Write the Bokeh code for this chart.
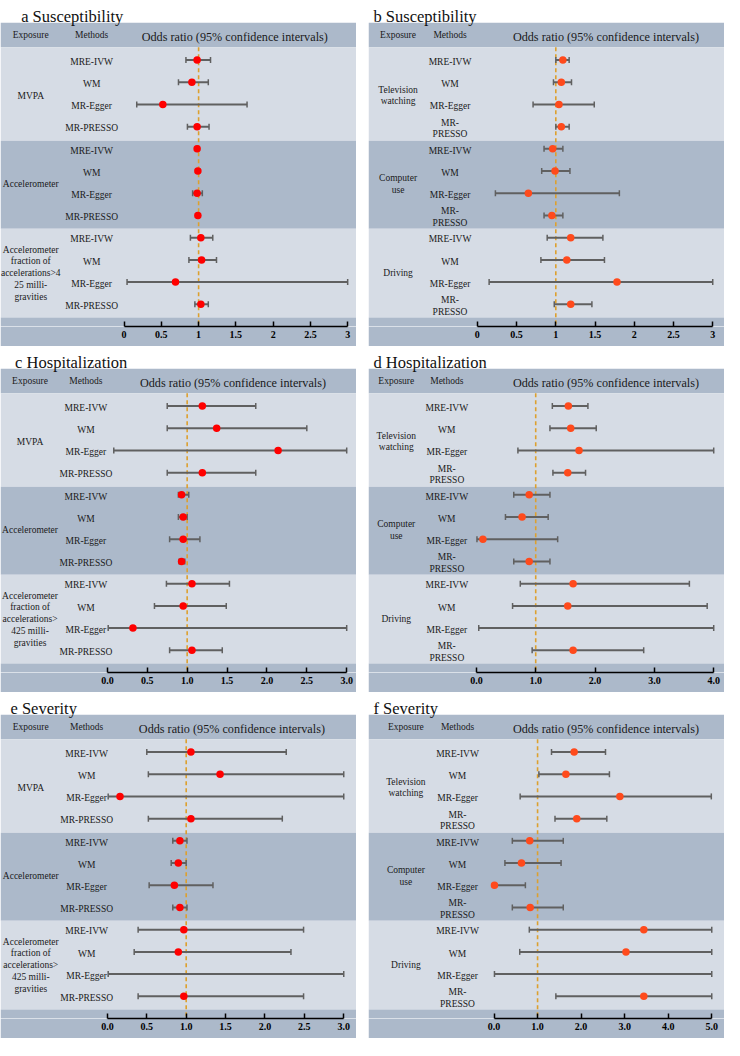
import math
import numpy as np
from bokeh.plotting import figure
from bokeh.models import Range1d, LinearAxis, FixedTicker, NumeralTickFormatter, BoxAnnotation
from bokeh.layouts import column, row
from bokeh.embed import file_html
from bokeh.resources import INLINE
from bokeh.core.properties import value

NaN = float("nan")

# ---------------- data ----------------
methods_one_line = ["MRE-IVW", "WM", "MR-Egger", "MR-PRESSO"]
methods_two_line = ["MRE-IVW", "WM", "MR-Egger", "MR-\nPRESSO"]

exposures_a = ["MVPA", "Accelerometer",
               "Accelerometer\nfraction of\naccelerations>4\n25 milli-\ngravities"]
exposures_ce = ["MVPA", "Accelerometer",
                "Accelerometer\nfraction of\naccelerations>\n425 milli-\ngravities"]
exposures_bdf = ["Television\nwatching", "Computer\nuse", "Driving"]

ticks_3_half = [0, 0.5, 1, 1.5, 2, 2.5, 3]
ticks_4 = [0, 1, 2, 3, 4]
ticks_5 = [0, 1, 2, 3, 4, 5]
null_value = 1.0

# a Susceptibility
a_or = [0.98, 0.91, 0.52, 0.98, 0.98, 0.99, 0.98, 0.99, 1.03, 1.04, 0.69, 1.03]
a_lo = [0.83, 0.73, 0.17, 0.85, 0.97, 0.97, 0.92, 0.98, 0.89, 0.87, 0.04, 0.95]
a_hi = [1.16, 1.13, 1.65, 1.14, 1.00, 1.01, 1.05, 1.00, 1.19, 1.24, 3.00, 1.13]
# b Susceptibility
b_or = [1.09, 1.07, 1.04, 1.07, 0.96, 0.99, 0.65, 0.95, 1.19, 1.14, 1.78, 1.19]
b_lo = [1.00, 0.97, 0.71, 1.00, 0.85, 0.82, 0.23, 0.85, 0.89, 0.81, 0.15, 0.98]
b_hi = [1.17, 1.20, 1.49, 1.17, 1.09, 1.18, 1.81, 1.09, 1.60, 1.62, 3.00, 1.46]
# c Hospitalization
c_or = [1.19, 1.37, 2.14, 1.19, 0.93, 0.95, 0.95, 0.93, 1.06, 0.95, 0.32, 1.06]
c_lo = [0.75, 0.75, 0.08, 0.75, 0.89, 0.89, 0.78, 0.90, 0.74, 0.59, 0.01, 0.78]
c_hi = [1.86, 2.50, 3.00, 1.86, 1.02, 1.00, 1.16, 0.97, 1.53, 1.49, 3.00, 1.44]
# d Hospitalization
d_or = [1.55, 1.59, 1.73, 1.54, 0.89, 0.77, 0.11, 0.89, 1.63, 1.54, NaN, 1.63]
d_lo = [1.28, 1.24, 0.70, 1.29, 0.63, 0.49, 0.01, 0.63, 0.74, 0.61, 0.04, 0.94]
d_hi = [1.88, 2.02, 4.00, 1.84, 1.24, 1.21, 1.37, 1.24, 3.59, 3.89, 4.00, 2.82]
# e Severity
e_or = [1.06, 1.43, 0.16, 1.06, 0.92, 0.90, 0.85, 0.92, 0.97, 0.90, NaN, 0.97]
e_lo = [0.50, 0.52, 0.01, 0.52, 0.83, 0.81, 0.53, 0.83, 0.39, 0.34, 0.01, 0.39]
e_hi = [2.27, 3.00, 3.00, 2.22, 1.01, 1.00, 1.34, 1.01, 2.49, 2.33, 3.00, 2.49]
# f Severity
f_or = [1.84, 1.65, 2.89, 1.90, 0.82, 0.63, 0.01, 0.83, 3.44, 3.03, NaN, 3.44]
f_lo = [1.32, 1.03, 0.60, 1.40, 0.42, 0.25, 0.00, 0.42, 0.81, 0.59, 0.01, 1.42]
f_hi = [2.56, 2.65, 4.99, 2.59, 1.59, 1.54, 0.72, 1.59, 5.00, 5.00, 5.00, 5.00]

# ---------------- style ----------------
DARK = "#ACB9CA"
LIGHT = "#D6DCE5"
TXT = "#1a1a1a"
CI_COL = "#606060"
REF_COL = "#DDA02E"
FONT = "Liberation Serif"

W, H = 356, 346
BORDER_B = 20

# vertical layout in row units (row i at y = -i)
G_TOP = 0.58
BOUNDS = [G_TOP, -3.63, -7.6, -11.6]
HEAD_TOP = G_TOP + 1.1
Y_MIN = -12.0
Y_MAX = HEAD_TOP + 1.0


def make_panel(title, ors, los, his, exposures, methods, ticks, fmt,
               zero_frac, max_frac, exp_frac, meth_frac, odds_frac, title_frac, dot_color):
    M = ticks[-1]
    unit = (max_frac - zero_frac) / M
    xs = -zero_frac / unit
    xe = (1 - zero_frac) / unit

    def fx(f):
        return xs + f * (xe - xs)

    p = figure(width=W, height=H, x_range=Range1d(xs, xe), y_range=Range1d(Y_MIN, Y_MAX),
               output_backend="svg", toolbar_location=None, x_axis_location=None,
               y_axis_location=None, min_border_left=0, min_border_right=0,
               min_border_top=0, min_border_bottom=BORDER_B, outline_line_color=None,
               background_fill_color="white", border_fill_color=DARK)
    p.xgrid.visible = False
    p.ygrid.visible = False

    # bands
    p.add_layout(BoxAnnotation(bottom=G_TOP, top=HEAD_TOP, fill_color=DARK, fill_alpha=1,
                               line_color=None, level="underlay"))
    cols = [LIGHT, DARK, LIGHT]
    for k in range(3):
        p.add_layout(BoxAnnotation(top=BOUNDS[k], bottom=BOUNDS[k + 1], fill_color=cols[k],
                                   fill_alpha=1, line_color=None, level="underlay"))
    p.add_layout(BoxAnnotation(top=BOUNDS[3], fill_color=DARK, fill_alpha=1,
                               line_color=None, level="underlay"))

    n = len(ors)
    ys = [-i for i in range(n)]

    # reference line
    p.segment(x0=[null_value], y0=[G_TOP], x1=[null_value], y1=[Y_MIN],
              line_color=REF_COL, line_width=1.6, line_dash="4 3")

    # CIs
    p.segment(x0=los, y0=ys, x1=his, y1=ys, line_color=CI_COL, line_width=2)
    p.scatter(x=los + his, y=ys + ys, marker="dash", angle=math.pi / 2, size=6,
              line_color=CI_COL, line_width=1.5)
    p.scatter(x=ors, y=ys, size=7.5, fill_color=dot_color, line_color=None)

    # header texts
    hy = (G_TOP + HEAD_TOP) / 2
    p.text(x=[fx(exp_frac), fx(meth_frac)], y=[hy, hy], text=["Exposure", "Methods"],
           text_align="center", text_baseline="middle", text_font=value(FONT),
           text_font_size="9.5px", text_color=TXT)
    p.text(x=[fx(odds_frac)], y=[hy - 0.08], text=["Odds ratio (95% confidence intervals)"],
           text_align="center", text_baseline="middle", text_font=value(FONT),
           text_font_size="12.2px", text_color=TXT)
    p.text(x=[fx(title_frac)], y=[HEAD_TOP + 0.27], text=[title], text_align="left",
           text_baseline="alphabetic", text_font=value(FONT), text_font_size="16.5px",
           text_color="#111111")

    # method labels
    meth_all = methods * 3
    p.text(x=[fx(meth_frac)] * n, y=[y - 0.08 for y in ys], text=meth_all,
           text_align="center", text_baseline="middle", text_font=value(FONT),
           text_font_size="9.5px", text_color=TXT, text_line_height=1.15)
    # exposure labels
    gy = [float(np.mean(ys[4 * k:4 * k + 4])) - 0.1 for k in range(3)]
    p.text(x=[fx(exp_frac)] * 3, y=gy, text=exposures, text_align="center",
           text_baseline="middle", text_font=value(FONT), text_font_size="9.5px",
           text_color=TXT, text_line_height=1.18)

    ax = LinearAxis(ticker=FixedTicker(ticks=ticks),
                    formatter=NumeralTickFormatter(format=fmt), bounds=(0, M))
    ax.axis_line_color = "black"
    ax.axis_line_width = 1.5
    ax.major_tick_in = 5
    ax.major_tick_out = 0
    ax.major_tick_line_color = "black"
    ax.major_tick_line_width = 1.5
    ax.minor_tick_line_color = None
    ax.major_label_text_font = FONT
    ax.major_label_text_font_style = "bold"
    ax.major_label_text_font_size = "10px"
    ax.major_label_text_color = "black"
    ax.major_label_standoff = 4
    p.add_layout(ax, "below")
    return p


RED = "#FF0000"
ORANGE = "#FF4A1C"

pa = make_panel("a Susceptibility", a_or, a_lo, a_hi, exposures_a, methods_one_line,
                ticks_3_half, "0.[0]", 126 / 363, 354 / 363, 0.085, 0.256, 0.658, 0.058, RED)
pb = make_panel("b Susceptibility", b_or, b_lo, b_hi, exposures_bdf, methods_two_line,
                ticks_3_half, "0.[0]", 111 / 363, 351 / 363, 0.083, 0.229, 0.667, 0.014, ORANGE)
pc = make_panel("c Hospitalization", c_or, c_lo, c_hi, exposures_ce, methods_one_line,
                ticks_3_half, "0.0", 109 / 363, 353 / 363, 0.083, 0.240, 0.653, 0.041, RED)
pd_ = make_panel("d Hospitalization", d_or, d_lo, d_hi, exposures_bdf, methods_two_line,
                 ticks_4, "0.0", 110 / 363, 352 / 363, 0.078, 0.220, 0.667, 0.014, ORANGE)
pe = make_panel("e Severity", e_or, e_lo, e_hi, exposures_ce, methods_one_line,
                ticks_3_half, "0.0", 109 / 363, 350 / 363, 0.085, 0.242, 0.650, 0.028, RED)
pf = make_panel("f Severity", f_or, f_lo, f_hi, exposures_bdf, methods_two_line,
                ticks_5, "0.0", 128 / 363, 350 / 363, 0.105, 0.250, 0.667, 0.014, ORANGE)

layout = column(row(pa, pb, spacing=12), row(pc, pd_, spacing=12),
                row(pe, pf, spacing=12), spacing=0)

open("out.html", "w").write(file_html(layout, INLINE))
